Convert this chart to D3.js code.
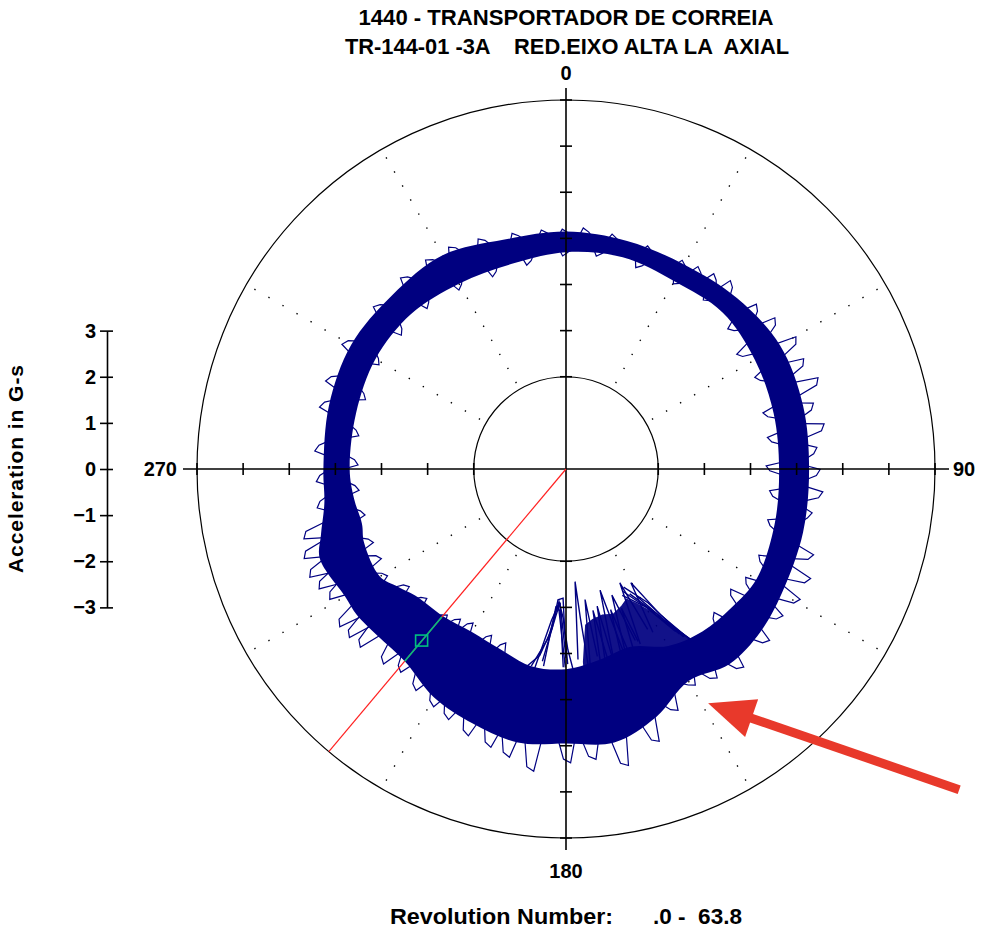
<!DOCTYPE html>
<html><head><meta charset="utf-8">
<script src="https://cdn.jsdelivr.net/npm/d3@7/dist/d3.min.js"></script>
<style>
body{margin:0;background:#fff}
text{font-family:"Liberation Sans",Arial,sans-serif;font-weight:bold;fill:#000}
</style>
</head><body>
<svg id="chart" width="992" height="938"></svg>
<script>
// ---------- text ----------
const titleLines = ["1440 - TRANSPORTADOR DE CORREIA", "TR-144-01 -3A    RED.EIXO ALTA LA  AXIAL"];
const yAxisTitle = "Acceleration in G-s";
const footerLabel = "Revolution Number:";
const footerRange = ".0 -  63.8";
const angleLabels = [0, 90, 180, 270];
const gridAngles = [30, 60, 120, 150, 210, 240, 300, 330];
const radialTicks = [2, 3, 4, 5, 6, 7, 8];
const accelTicks = [-3, -2, -1, 0, 1, 2, 3];
const innerCircleRadius = 2;
const radialMax = 8;

// ---------- data (angle in degrees clockwise from top, radius in plot units) ----------
const coreAngles = [0, 15, 30, 45, 60, 75, 90, 105, 120, 130, 140, 150, 160, 170, 180, 190, 200, 210, 220, 230, 235, 240, 250, 255, 262, 270, 285, 300, 315, 330, 345];
const coreInner  = [4.70,4.75,4.70,4.80,4.73,4.66,4.62,4.68,4.77,4.68,4.60,4.43,4.10,4.20,4.34,4.34,4.16,4.08,4.16,4.27,4.45,4.66,4.66,4.58,4.64,4.69,4.71,4.77,4.75,4.64,4.60];
const coreOuter  = [5.15,5.12,5.12,5.24,5.36,5.32,5.27,5.32,5.40,5.50,5.52,5.31,5.72,6.02,5.95,6.02,5.88,5.72,5.44,5.47,5.53,5.53,5.68,5.50,5.29,5.26,5.32,5.38,5.33,5.35,5.15];

// outward excursions of the trace beyond the solid band
const outerExcursions = [[0,5.20],[5,5.24],[12,5.19],[21,5.15],[30,5.18],[34,5.24],[38,5.31],[42,5.42],[50,5.46],[55,5.59],[61,5.75],[66,5.68],[71,5.81],[76,5.55],[81,5.68],[86,5.46],[91,5.51],[96,5.59],[101,5.42],[110,5.68],[115,5.81],[120,5.81],[125,5.68],[131,5.77],[139,5.77],[145,5.59],[150,5.46],[156,5.77],[162,6.24],[169,6.57],[175,6.33],[180,6.37],[187,6.59],[192,6.37],[196,6.25],[201,6.16],[206,6.00],[210,5.90],[215,5.80],[220,5.68],[224,5.79],[230,5.90],[233,5.95],[236,5.98],[242,5.85],[245,5.95],[248,6.03],[252,6.00],[256,5.88],[262,5.46],[268,5.42],[275,5.46],[285,5.51],[291,5.55],[300,5.56],[311,5.46],[320,5.48],[327,5.46],[333,5.44],[340,5.34],[348,5.24],[355,5.21]];
// inward excursions
const innerExcursions = [[0,4.62],[9,4.66],[20,4.62],[31,4.64],[40,4.72],[50,4.64],[57,4.46],[65,4.55],[75,4.44],[82,4.42],[90,4.34],[97,4.44],[105,4.51],[115,4.58],[122,4.55],[127,4.42],[135,4.47],[200,3.99],[205,3.95],[212,3.90],[216,3.98],[220,4.08],[228,4.12],[234,4.25],[240,4.51],[245,4.45],[250,4.47],[258,4.47],[265,4.51],[272,4.51],[280,4.55],[290,4.60],[300,4.64],[310,4.60],[320,4.60],[330,4.52],[340,4.46],[350,4.50]];
// dense fan of trace strokes between 143° and 176° (top of the dense part)
const fanTop = [[143.5,4.60],[146,4.10],[149,3.60],[152,3.30],[155,3.10],[158,3.20],[162,3.30],[166,3.25],[170,3.30],[173,3.40],[175,4.20]];
// individual strokes of the trace reaching toward the centre near 145°–192°
const strands = [
  [[192,4.44],[188,4.08],[185,3.47],[183.5,2.84],[181.3,2.80],[180.5,3.47],[179.4,3.92],[178,4.34]],
  [[190,4.34],[186,3.69],[183,2.88],[181,3.25],[179.5,4.23]],
  [[189,4.40],[185.5,3.30],[183.2,2.95],[180.2,4.30]],
  [[187,4.20],[184,3.20],[182.5,2.90],[181.5,3.60],[180.8,4.30]],
  [[186.5,4.30],[184.2,3.00],[182,3.10],[180,4.10]],
  [[176.4,4.14],[175.4,2.45],[174.5,3.25],[173.5,4.34]],
  [[173,4.34],[171.7,2.86],[170.5,4.12]],
  [[170,4.44],[169.2,3.12],[167.5,4.34]],
  [[168.5,4.30],[167.2,3.05],[166.2,4.20]],
  [[166,4.34],[164.3,2.73],[162.5,4.23]],
  [[163.5,4.25],[162.4,3.20],[161.2,4.10]],
  [[162,4.12],[160,2.91],[158,4.01]],
  [[159.5,4.15],[158.3,3.25],[157.3,4.05]],
  [[157,4.12],[154.7,2.73],[153,3.90]],
  [[152,4.01],[150.3,2.84],[147,3.79],[144,4.57]],
  [[153,3.04],[148,3.69],[145,4.44]],
  [[151,3.14],[147,3.90],[143.5,4.66]],
  [[155,2.93],[149,3.58],[145.5,4.34]],
  [[156,3.00],[150,3.45],[146,4.25]],
  [[154,2.85],[148.5,3.40],[144.8,4.45]]
];
// cursor
const cursorAngle = 220;
const cursorSegment = [4.19, 5.44];
const cursorMarker = 4.87;
// annotation arrow (tail, tip) as [angle, radius]
const arrowTail = [129.2, 11.0];
const arrowTip = [148.75, 5.94];

// ---------- drawing ----------
const svg = d3.select("#chart");
const cx = 566, cy = 469, R = 369;
const navy = "#000080";
const r = d3.scaleLinear().domain([0, radialMax]).range([0, R]);
const rad = d => d * Math.PI / 180;
const X = (deg, v) => cx + r(v) * Math.sin(rad(deg));
const Y = (deg, v) => cy - r(v) * Math.cos(rad(deg));

const g = svg.append("g").attr("transform", `translate(${cx},${cy})`);

g.append("circle").attr("r", r(radialMax)).attr("fill", "none").attr("stroke", "#000").attr("stroke-width", 1.2);
g.append("circle").attr("r", r(innerCircleRadius)).attr("fill", "none").attr("stroke", "#000").attr("stroke-width", 1.2);

gridAngles.forEach(a => {
  g.append("line")
    .attr("x1", X(a, innerCircleRadius) - cx).attr("y1", Y(a, innerCircleRadius) - cy)
    .attr("x2", X(a, radialMax) - cx).attr("y2", Y(a, radialMax) - cy)
    .attr("stroke", "#000").attr("stroke-width", 1.4)
    .attr("stroke-dasharray", "1.4,14.8").attr("stroke-dashoffset", -7);
});

// band
const closed = d3.lineRadial().angle(d => rad(d[0])).radius(d => r(d[1])).curve(d3.curveCatmullRomClosed.alpha(0.5));
const outerPts = coreAngles.map((a, i) => [a, coreOuter[i]]);
const innerPts = coreAngles.map((a, i) => [a, coreInner[i]]);
g.append("path")
  .attr("d", closed(outerPts) + closed(innerPts))
  .attr("fill", navy).attr("fill-rule", "evenodd");

const lin = d3.lineRadial().angle(d => rad(d[0])).radius(d => r(d[1]));
const interp = (arr) => d3.scaleLinear().domain(coreAngles.concat([360])).range(arr.concat([arr[0]]));
const baseOut = interp(coreOuter), baseIn = interp(coreInner);
const wrap = a => (a + 360) % 360;

// dense fan area
const fanBase = fanTop.slice().reverse().map(([a]) => [a, baseIn(a) + 0.1]);
g.append("path").attr("d", lin(fanTop.concat(fanBase)) + "Z")
  .attr("fill", navy).attr("fill-opacity", 0.93);

outerExcursions.forEach(([a, v]) => {
  const pts = [[a - 1.9, baseOut(wrap(a - 1.9)) - 0.1], [a - 0.9, v], [a + 0.5, v - 0.08], [a + 1.7, baseOut(wrap(a + 1.7)) - 0.1]];
  g.append("path").attr("d", lin(pts)).attr("fill", "none").attr("stroke", navy).attr("stroke-width", 1.2);
});
innerExcursions.forEach(([a, v]) => {
  const pts = [[a - 1.9, baseIn(wrap(a - 1.9)) + 0.1], [a - 0.9, v], [a + 0.5, v + 0.08], [a + 1.7, baseIn(wrap(a + 1.7)) + 0.1]];
  g.append("path").attr("d", lin(pts)).attr("fill", "none").attr("stroke", navy).attr("stroke-width", 1.2);
});
strands.forEach(s => {
  g.append("path").attr("d", lin(s)).attr("fill", "none").attr("stroke", navy).attr("stroke-width", 1.4);
});

// cross axes with ticks
const ext = 14;
g.append("line").attr("x1", -R - ext).attr("x2", R + ext).attr("y1", 0).attr("y2", 0).attr("stroke", "#000").attr("stroke-width", 1.6);
g.append("line").attr("y1", -R - ext + 2).attr("y2", R + ext - 2).attr("x1", 0).attr("x2", 0).attr("stroke", "#000").attr("stroke-width", 1.6);
angleLabels.forEach(a => {
  radialTicks.forEach(t => {
    const x = X(a, t) - cx, y = Y(a, t) - cy;
    const horiz = (a === 0 || a === 180);
    g.append("line")
      .attr("x1", horiz ? x - 6 : x).attr("x2", horiz ? x + 6 : x)
      .attr("y1", horiz ? y : y - 6).attr("y2", horiz ? y : y + 6)
      .attr("stroke", "#000").attr("stroke-width", 1.6);
  });
});

// cursor
g.append("line").attr("x1", 0).attr("y1", 0)
  .attr("x2", X(cursorAngle, radialMax) - cx).attr("y2", Y(cursorAngle, radialMax) - cy)
  .attr("stroke", "#ff2020").attr("stroke-width", 1.2);
g.append("line")
  .attr("x1", X(cursorAngle, cursorSegment[0]) - cx).attr("y1", Y(cursorAngle, cursorSegment[0]) - cy)
  .attr("x2", X(cursorAngle, cursorSegment[1]) - cx).attr("y2", Y(cursorAngle, cursorSegment[1]) - cy)
  .attr("stroke", "#00c080").attr("stroke-width", 1.6);
g.append("rect")
  .attr("x", X(cursorAngle, cursorMarker) - cx - 6).attr("y", Y(cursorAngle, cursorMarker) - cy - 6)
  .attr("width", 12).attr("height", 11)
  .attr("fill", "none").attr("stroke", "#00c080").attr("stroke-width", 1.6);

// angle labels
const lab = svg.append("g").style("font-size", "20px");
lab.append("text").attr("x", cx).attr("y", cy - R - 20).attr("text-anchor", "middle").text(angleLabels[0]);
lab.append("text").attr("x", cx).attr("y", cy + R + 40).attr("text-anchor", "middle").text(angleLabels[2]);
lab.append("text").attr("x", cx + R + 18).attr("y", cy + 7).attr("text-anchor", "start").text(angleLabels[1]);
lab.append("text").attr("x", cx - R - 20).attr("y", cy + 7).attr("text-anchor", "end").text(angleLabels[3]);

// left acceleration axis
const yAcc = d3.scaleLinear().domain([-3, 3]).range([cy + r(3), cy - r(3)]);
const axisG = svg.append("g").attr("transform", "translate(107,0)")
  .call(d3.axisLeft(yAcc).tickValues(accelTicks).tickSizeInner(7).tickSizeOuter(0).tickPadding(4).tickFormat(d3.format("d")));
axisG.select(".domain").attr("stroke", "#000").attr("stroke-width", 1.6);
axisG.selectAll(".tick line").attr("stroke", "#000").attr("stroke-width", 1.6).attr("x2", -7).attr("x1", 6);
axisG.selectAll(".tick text").style("font-size", "20px").style("font-family", '"Liberation Sans",Arial,sans-serif').style("font-weight", "bold").attr("fill", "#000");

svg.append("text").attr("transform", `translate(23,${cy}) rotate(-90)`)
  .attr("text-anchor", "middle").style("font-size", "21px")
  .attr("textLength", 208).attr("lengthAdjust", "spacing").text(yAxisTitle);

// titles
svg.append("text").attr("x", cx).attr("y", 25).attr("text-anchor", "middle").style("font-size", "22px")
  .attr("textLength", 415).attr("lengthAdjust", "spacingAndGlyphs").text(titleLines[0]);
svg.append("text").attr("x", cx + 1).attr("y", 54).attr("text-anchor", "middle").style("font-size", "22px")
  .style("white-space", "pre").attr("textLength", 444).attr("lengthAdjust", "spacingAndGlyphs").text(titleLines[1]);

// footer
svg.append("text").attr("x", 390).attr("y", 924).style("font-size", "22px")
  .attr("textLength", 223).attr("lengthAdjust", "spacingAndGlyphs").text(footerLabel);
svg.append("text").attr("x", 653).attr("y", 924).style("font-size", "22px").style("white-space", "pre")
  .attr("textLength", 89).attr("lengthAdjust", "spacingAndGlyphs").text(footerRange);

// annotation arrow
const tx = X(arrowTip[0], arrowTip[1]), ty = Y(arrowTip[0], arrowTip[1]);
const sx = X(arrowTail[0], arrowTail[1]), sy = Y(arrowTail[0], arrowTail[1]);
const ang = Math.atan2(ty - sy, tx - sx);
const headLen = 46, headHalf = 20;
const bx = tx - headLen * Math.cos(ang), by = ty - headLen * Math.sin(ang);
const nx = -Math.sin(ang), ny = Math.cos(ang);
svg.append("line").attr("x1", sx).attr("y1", sy).attr("x2", bx + 4 * Math.cos(ang)).attr("y2", by + 4 * Math.sin(ang))
  .attr("stroke", "#e8392b").attr("stroke-width", 9);
svg.append("polygon")
  .attr("points", [[tx, ty], [bx + headHalf * nx, by + headHalf * ny], [bx - headHalf * nx, by - headHalf * ny]].map(p => p.join(",")).join(" "))
  .attr("fill", "#e8392b");
</script>
</body></html>
